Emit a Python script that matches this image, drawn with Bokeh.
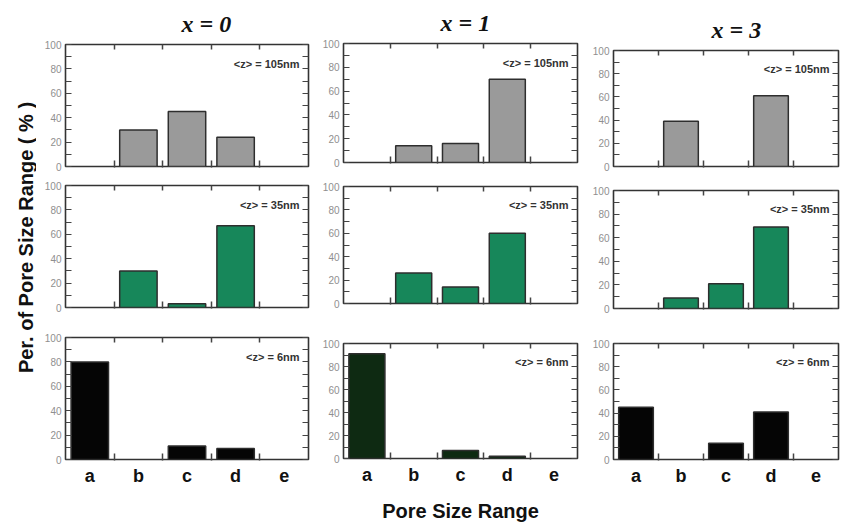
from bokeh.plotting import figure
from bokeh.layouts import row, column
from bokeh.models import Range1d, FixedTicker, LinearAxis, Label
from bokeh.embed import file_html
from bokeh.resources import INLINE
import math

# ---------------- data ----------------
categories = ["a", "b", "c", "d", "e"]
compositions = ["x = 0", "x = 1", "x = 3"]
size_notes = ["<z> = 105nm", "<z> = 35nm", "<z> = 6nm"]

z105_x0 = [0, 30, 45, 24, 0]
z105_x1 = [0, 14, 16, 70, 0]
z105_x3 = [0, 39, 0, 61, 0]

z35_x0 = [0, 30, 3, 67, 0]
z35_x1 = [0, 26, 14, 60, 0]
z35_x3 = [0, 9, 21, 69, 0]

z6_x0 = [80, 0, 11, 9, 0]
z6_x1 = [91, 0, 7, 2, 0]
z6_x3 = [45, 0, 14, 41, 0]

y_ticks = [0, 20, 40, 60, 80, 100]
y_minor = [10, 30, 50, 70, 90]

GRAY = "#9a9a9a"
GREEN = "#17875a"
BLACK = "#050505"
DKGREEN = "#0e2a12"
EDGE = "#2e2e2e"
FONT = "Liberation Sans"
TICKC = "#444444"


def tick_only_axis(ticks, tin, tout=0, lw=1.2):
    ax = LinearAxis(ticker=FixedTicker(ticks=[], minor_ticks=ticks))
    ax.axis_line_color = None
    ax.major_tick_line_color = None
    ax.minor_tick_in = tin
    ax.minor_tick_out = tout
    ax.minor_tick_line_color = TICKC
    ax.minor_tick_line_width = lw
    ax.major_label_standoff = 0
    return ax


def panel(values, fill, note, fw, fh, bl, br, bt, bb,
          title=None, title_offset=0, bottom_labels=False, xlabel=None):
    p = figure(width=bl + fw + br, height=bt + fh + bb,
               x_range=Range1d(0, len(categories)), y_range=Range1d(0, 100),
               x_axis_type=None, y_axis_type=None,
               output_backend="svg", toolbar_location=None,
               min_border_left=bl, min_border_right=br,
               min_border_top=bt, min_border_bottom=bb)
    p.outline_line_color = "#333333"
    p.outline_line_width = 1.6
    p.background_fill_color = "white"
    p.border_fill_color = "white"

    if title:
        p.title.text = title
        p.title.align = "left"
        p.title.offset = title_offset
        p.title.text_font = "Liberation Serif"
        p.title.text_font_style = "bold italic"
        p.title.text_font_size = "24px"
        p.title.text_color = "#111111"
        p.title.standoff = 15

    # left axis with labels
    la = LinearAxis(ticker=FixedTicker(ticks=y_ticks, minor_ticks=y_minor))
    la.axis_line_color = None
    la.major_tick_in = 6
    la.major_tick_out = 0
    la.minor_tick_in = 6
    la.minor_tick_out = 0
    la.major_tick_line_color = TICKC
    la.minor_tick_line_color = TICKC
    la.major_tick_line_width = 1.2
    la.minor_tick_line_width = 1.2
    la.major_label_text_font_size = "10px"
    la.major_label_text_color = "#8f8f8f"
    la.major_label_text_font = FONT
    la.major_label_standoff = 4
    p.add_layout(la, "left")

    # right axis (ticks only)
    p.add_layout(tick_only_axis(sorted(y_ticks + y_minor), 6), "right")

    boundaries = [i for i in range(1, len(categories))]
    centers = [i + 0.5 for i in range(len(categories))]

    # top axis (ticks only)
    p.add_layout(tick_only_axis(boundaries, 5, 0, 1.5), "above")

    # bottom axis
    if bottom_labels:
        ba = LinearAxis(ticker=FixedTicker(ticks=centers, minor_ticks=boundaries))
        ba.axis_line_color = None
        ba.major_tick_in = 0
        ba.major_tick_out = 0
        ba.minor_tick_in = 6
        ba.minor_tick_out = 1
        ba.minor_tick_line_color = TICKC
        ba.minor_tick_line_width = 1.5
        ba.major_label_overrides = {c: lab for c, lab in zip(centers, categories)}
        ba.major_label_text_font_size = "18px"
        ba.major_label_text_font_style = "bold"
        ba.major_label_text_color = "#111111"
        ba.major_label_text_font = FONT
        ba.major_label_standoff = 5
        if xlabel:
            ba.axis_label = xlabel
            ba.axis_label_text_font = FONT
            ba.axis_label_text_font_size = "20px"
            ba.axis_label_text_font_style = "bold"
            ba.axis_label_text_color = "#111111"
            ba.axis_label_standoff = 12
    else:
        ba = tick_only_axis(boundaries, 6, 1, 1.5)
    p.add_layout(ba, "below")

    xs = [centers[i] for i, v in enumerate(values) if v > 0]
    tops = [v for v in values if v > 0]
    p.vbar(x=xs, top=tops, bottom=0, width=0.77, fill_color=fill,
           line_color=EDGE, line_width=1.5)

    p.add_layout(Label(x=len(categories), y=84, x_offset=-9, text=note,
                       text_align="right", text_baseline="middle",
                       text_font=FONT, text_font_size="11px",
                       text_font_style="bold", text_color="#333333"))
    return p


# y-axis title strip
TOTAL_H = 525
yt = figure(width=36, height=TOTAL_H, x_range=Range1d(0, 36), y_range=Range1d(0, TOTAL_H),
            x_axis_type=None, y_axis_type=None, output_backend="svg",
            toolbar_location=None, min_border=0)
yt.outline_line_color = None
yt.add_layout(Label(x=25, y=TOTAL_H - 237, text="Per. of Pore Size Range ( % )",
                    angle=math.pi / 2, text_align="center", text_baseline="middle",
                    text_font=FONT, text_font_size="20px", text_font_style="bold",
                    text_color="#111111"))

# column 1 : frames x 65-308
c1 = column(
    panel(z105_x0, GRAY, size_notes[0], 243, 122, 29, 5, 44, 9,
          title=compositions[0], title_offset=116),
    panel(z35_x0, GREEN, size_notes[1], 243, 122, 29, 5, 10, 10),
    panel(z6_x0, BLACK, size_notes[2], 243, 122, 29, 5, 20, 66, bottom_labels=True),
)
# column 2 : frames x 343-577
c2 = column(
    panel(z105_x1, GRAY, size_notes[0], 234, 119, 30, 6, 43, 12,
          title=compositions[1], title_offset=97),
    panel(z35_x1, GREEN, size_notes[1], 234, 117, 30, 6, 12, 10),
    panel(z6_x1, DKGREEN, size_notes[2], 234, 115, 30, 6, 30, 67,
          bottom_labels=True, xlabel="Pore Size Range"),
)
# column 3 : frames x 613-838
c3 = column(
    panel(z105_x3, GRAY, size_notes[0], 225, 116, 30, 4, 50, 12,
          title=compositions[2], title_offset=98),
    panel(z35_x3, GREEN, size_notes[1], 225, 118, 30, 4, 12, 10),
    panel(z6_x3, BLACK, size_notes[2], 225, 116, 30, 4, 25, 66, bottom_labels=True),
)

layout = row(yt, c1, c2, c3)
open("out.html", "w").write(file_html(layout, INLINE))
